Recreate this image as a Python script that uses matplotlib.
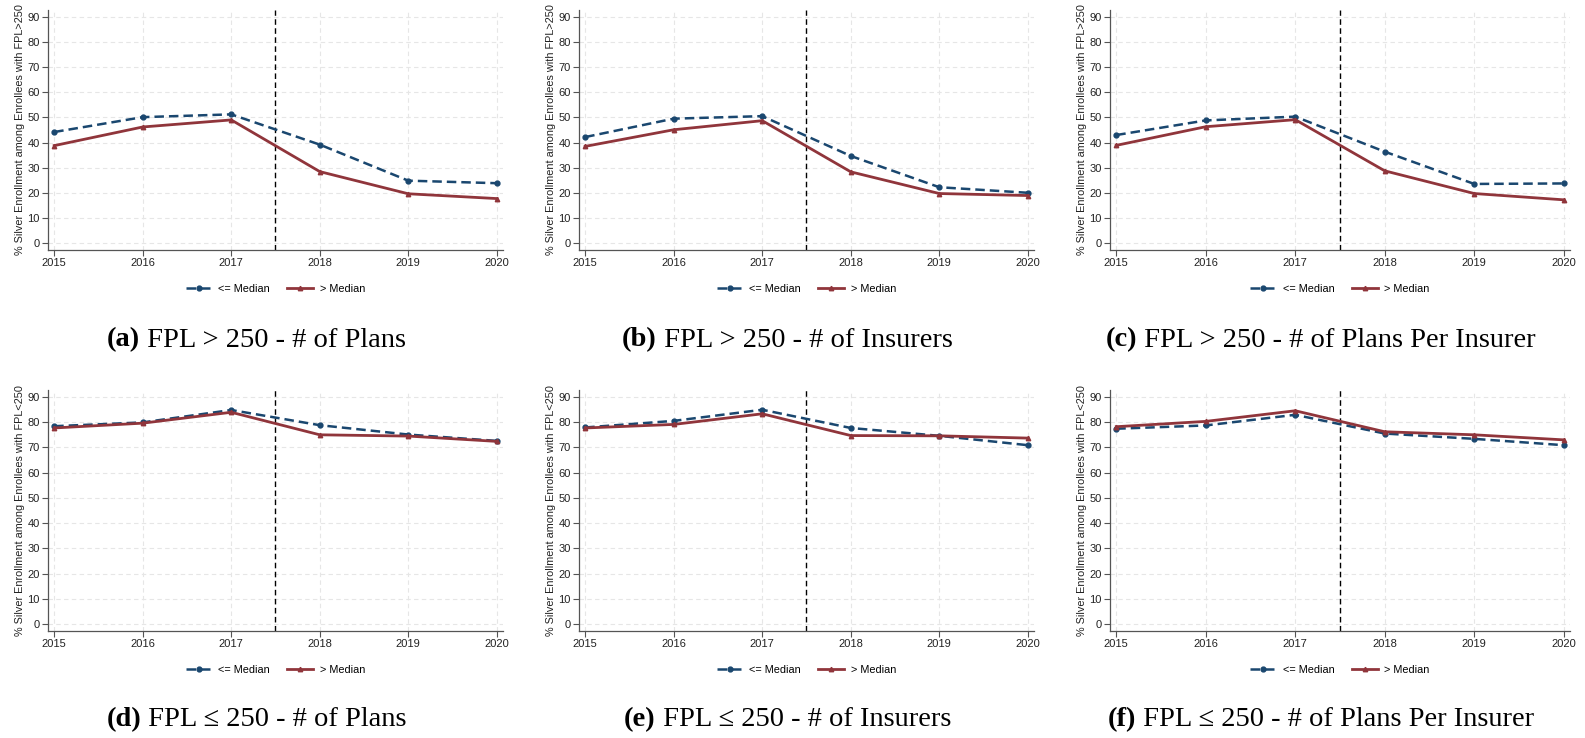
import matplotlib
matplotlib.use("Agg")
import matplotlib.pyplot as plt

years = [2015, 2016, 2017, 2018, 2019, 2020]

# <= Median series (navy, dashed) per panel
below_a = [44.2, 50.1, 51.2, 39.2, 24.9, 23.9]
below_b = [42.2, 49.5, 50.5, 34.7, 22.3, 20.1]
below_c = [43.0, 48.8, 50.3, 36.4, 23.6, 23.8]
below_d = [78.3, 79.8, 84.7, 78.7, 75.0, 72.5]
below_e = [77.8, 80.4, 84.8, 77.6, 74.5, 70.8]
below_f = [77.3, 78.6, 82.8, 75.4, 73.3, 70.8]

# > Median series (maroon, solid) per panel
above_a = [38.8, 46.2, 49.0, 28.5, 19.7, 17.8]
above_b = [38.5, 45.1, 48.7, 28.4, 19.8, 19.0]
above_c = [38.9, 46.3, 49.1, 28.8, 19.8, 17.3]
above_d = [77.6, 79.5, 83.8, 74.9, 74.4, 72.3]
above_e = [77.6, 79.0, 83.2, 74.6, 74.5, 73.6]
above_f = [78.1, 80.2, 84.4, 76.1, 74.9, 72.9]

ylabels = ["% Silver Enrollment among Enrollees with FPL>250"] * 3 + \
          ["% Silver Enrollment among Enrollees with FPL<250"] * 3
tags = ["(a)", "(b)", "(c)", "(d)", "(e)", "(f)"]
captions = [" FPL > 250 - # of Plans", " FPL > 250 - # of Insurers",
            " FPL > 250 - # of Plans Per Insurer",
            " FPL \u2264 250 - # of Plans", " FPL \u2264 250 - # of Insurers",
            " FPL \u2264 250 - # of Plans Per Insurer"]
legend_labels = ["<= Median", "> Median"]
yticks = list(range(0, 100, 10))

below = [below_a, below_b, below_c, below_d, below_e, below_f]
above = [above_a, above_b, above_c, above_d, above_e, above_f]

navy = "#1a476f"
maroon = "#90353b"

W, H = 1585, 738
fig = plt.figure(figsize=(W / 100, H / 100), dpi=100)
fig.patch.set_facecolor("white")

# axes boxes in pixels: (left, right, top, bottom)
col_px = [(48, 503), (579, 1034), (1110, 1570)]
row_px = [(10, 250), (390, 631)]
cap_y = [340, 720]
cap_shift = -19

for i in range(6):
    r, c = divmod(i, 3)
    l, rt = col_px[c]
    t, b = row_px[r]
    ax = fig.add_axes([l / W, 1 - b / H, (rt - l) / W, (b - t) / H])
    ax.plot(years, below[i], color=navy, lw=1.8, ls=(0, (3.8, 2.0)),
            marker="o", ms=3.5, label=legend_labels[0], zorder=3)
    ax.plot(years, above[i], color=maroon, lw=2.0, ls="-",
            marker="^", ms=3.2, label=legend_labels[1], zorder=3)
    ax.axvline(2017.5, color="black", lw=1.0, ls=(0, (4, 2.5)), zorder=2)

    ax.set_xlim(2014.93, 2020.07)
    ax.set_ylim(-2.6, 92.6)
    ax.set_xticks(years)
    ax.set_yticks(yticks)
    ax.grid(True, color="#e6e6e6", ls=(0, (4, 3)), lw=0.8, zorder=0)
    for s in ["top", "right"]:
        ax.spines[s].set_visible(False)
    for s in ["left", "bottom"]:
        ax.spines[s].set_color("#555555")
        ax.spines[s].set_linewidth(0.9)
    ax.tick_params(axis="both", labelsize=8, colors="#222222",
                   length=4, width=0.8, pad=2, labelfontfamily="Liberation Sans")
    ax.tick_params(axis="both", color="#555555")
    ax.set_ylabel(ylabels[i], fontsize=7.8, family="Liberation Sans",
                  color="#222222", labelpad=2)

    ax.legend(loc="center", bbox_to_anchor=(0.5, -0.163), ncol=2,
              frameon=False, handlelength=2.4, handletextpad=0.6,
              columnspacing=1.6, prop={"family": "Liberation Sans", "size": 7.8})

    cx = (l + rt) / 2 + cap_shift
    # bold tag plus normal caption, centred together
    t1 = fig.text(0, 0, tags[i], fontsize=20.5, fontweight="bold",
                  family="Liberation Serif")
    t2 = fig.text(0, 0, captions[i], fontsize=20.5, family="Liberation Serif")
    fig.canvas.draw()
    w1 = t1.get_window_extent().width
    w2 = t2.get_window_extent().width
    x0 = cx - (w1 + w2) / 2
    t1.set_position((x0 / W, 1 - cap_y[r] / H))
    t2.set_position(((x0 + w1) / W, 1 - cap_y[r] / H))
    t1.set_va("center")
    t2.set_va("center")

fig.savefig("out.png", dpi=100, facecolor="white")
